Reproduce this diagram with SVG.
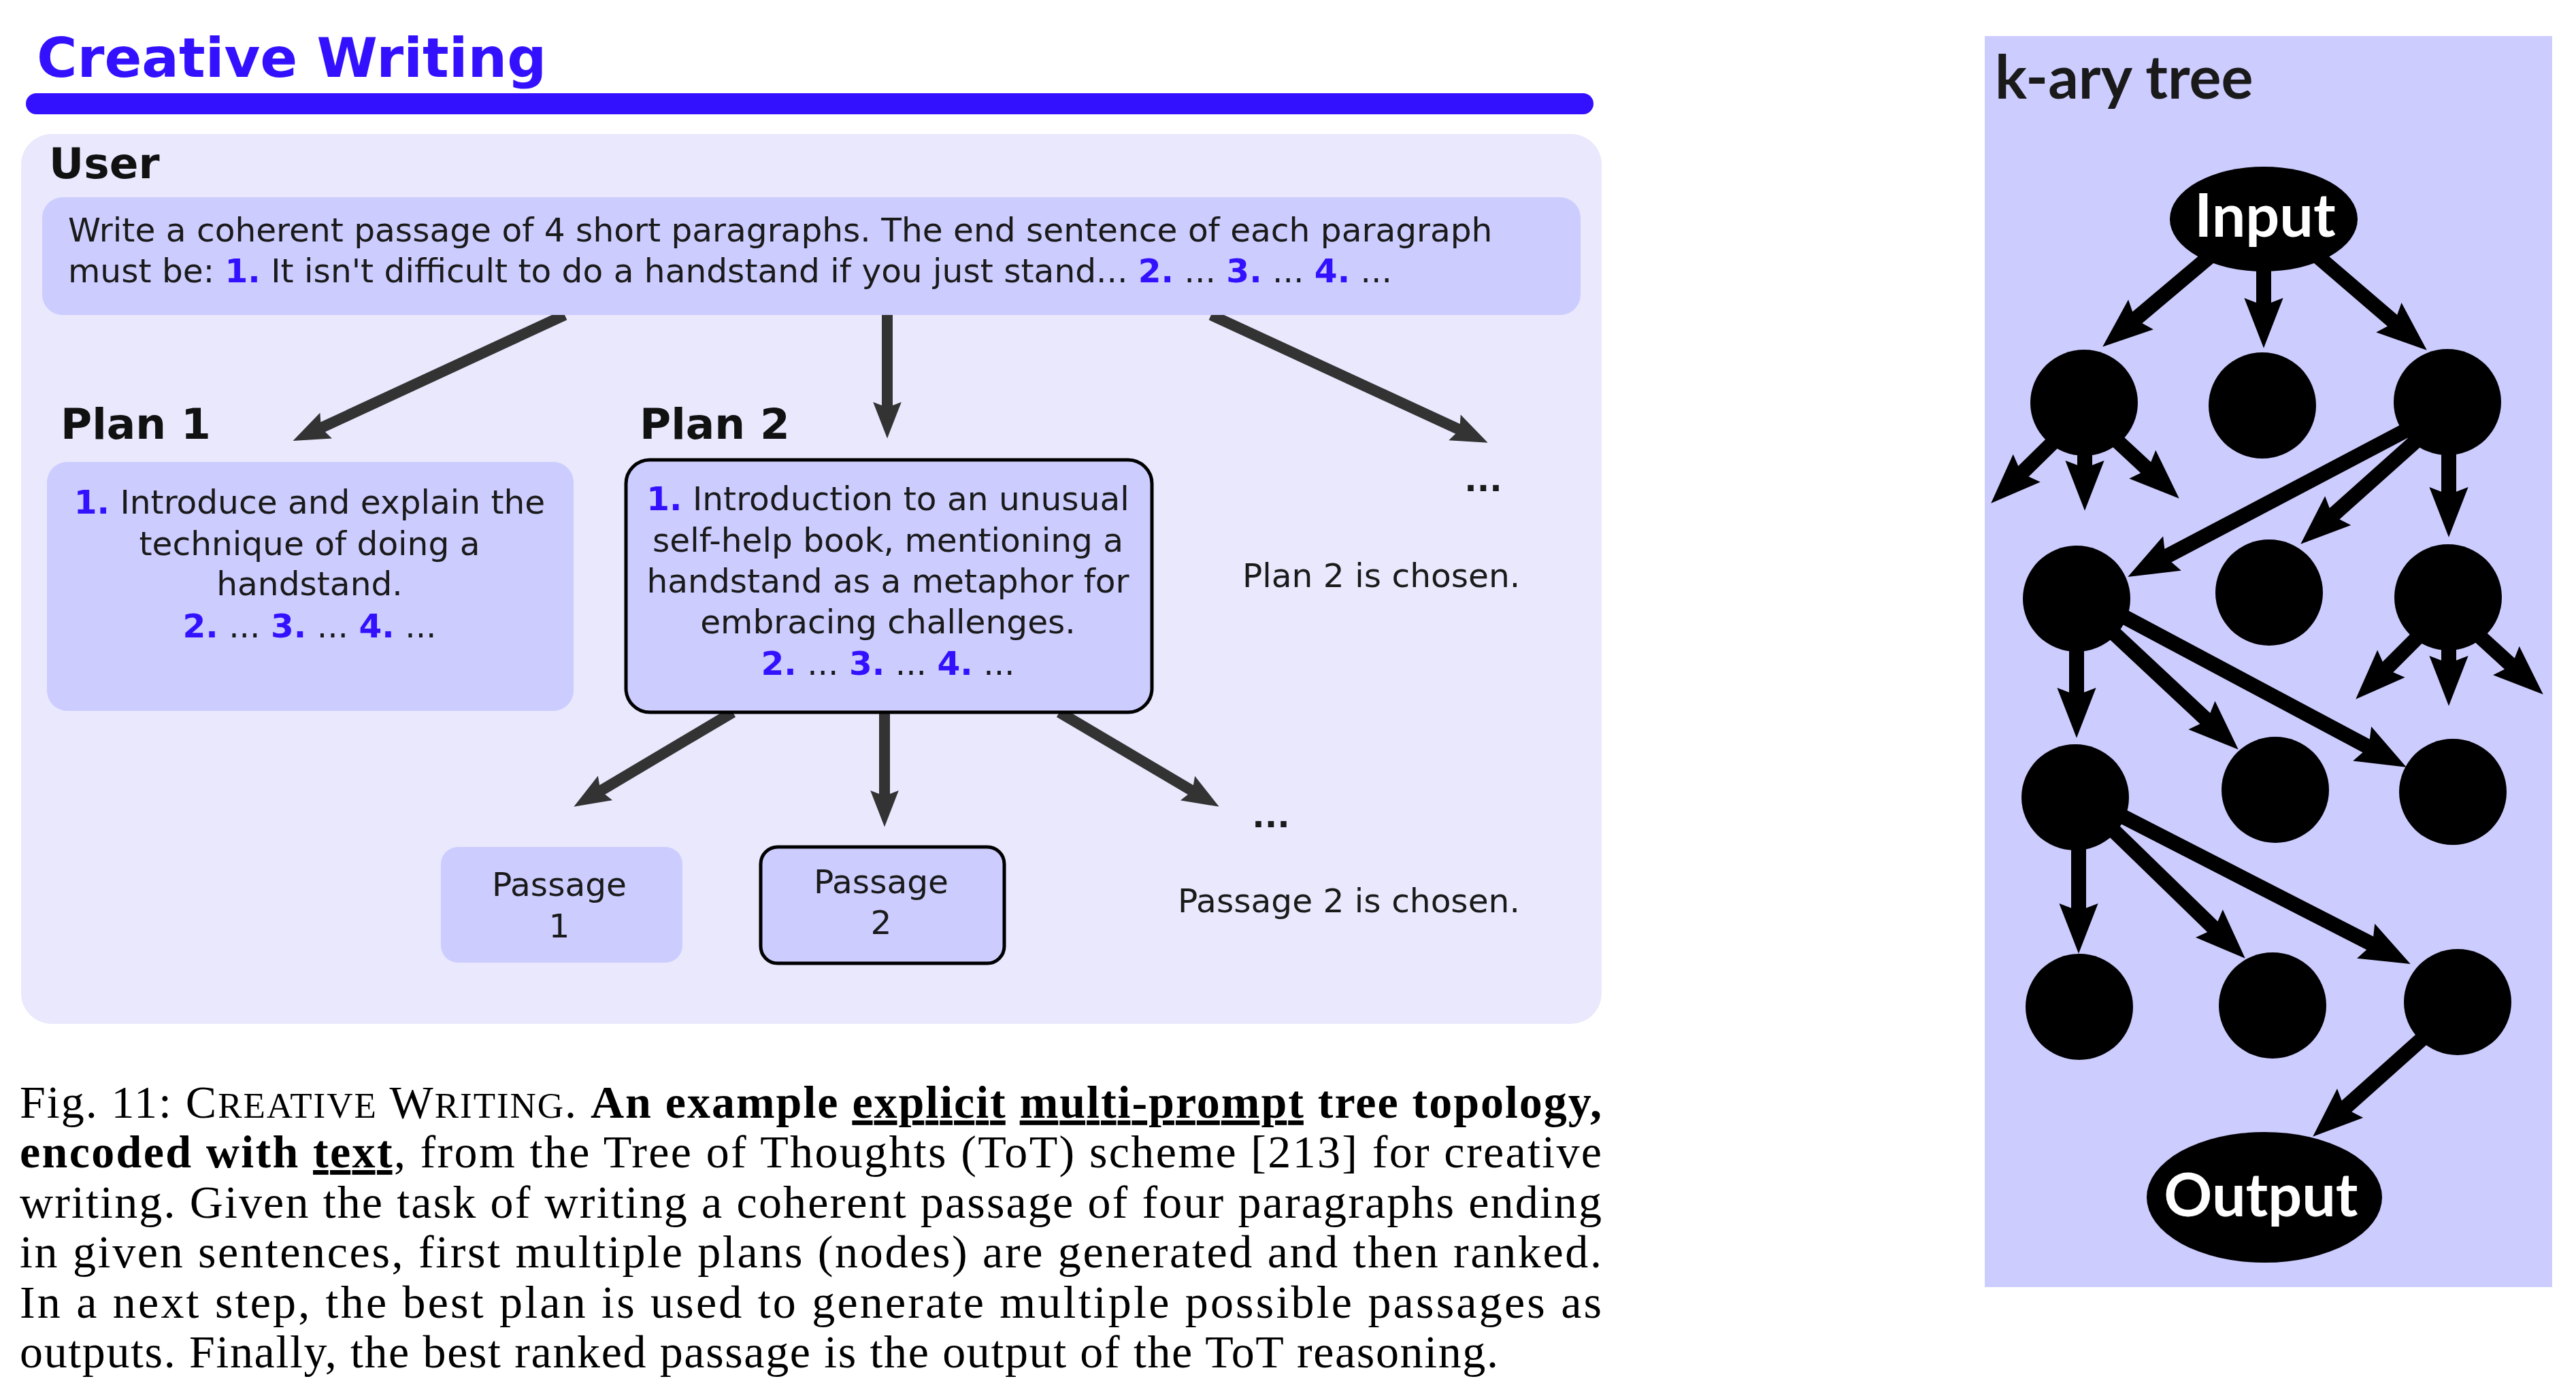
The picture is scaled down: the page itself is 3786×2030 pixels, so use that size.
<svg xmlns="http://www.w3.org/2000/svg" width="3786" height="2030" viewBox="0 0 3786 2030">
<style>
.sans{font-family:"DejaVu Sans","Verdana",sans-serif;}
.body{font-family:"DejaVu Sans",sans-serif;font-size:48.6px;fill:#1a1a1a;}
.bold{font-weight:bold;}
.hd{font-family:"DejaVu Sans",sans-serif;font-size:63px;font-weight:bold;fill:#111;}
.num{font-weight:bold;fill:#3311ff;}
.box{fill:#ccccff;}
.sel{fill:#ccccff;stroke:#000;stroke-width:5;}
.ga{stroke:#333;stroke-width:16;fill:none;marker-end:url(#ahG);}
.ka{stroke:#000;stroke-width:22;fill:none;marker-end:url(#ahK);}
.node{fill:#000;}
.lato{font-family:Lato,"Open Sans",sans-serif;font-weight:bold;font-size:88px;}
.cap{font-family:"Liberation Serif","Times New Roman",serif;font-size:68px;fill:#000;}
.sc{font-size:53px;}
</style>
<defs>
<marker id="ahG" markerUnits="strokeWidth" markerWidth="4" markerHeight="3" refX="1" refY="0" orient="auto" overflow="visible"><path d="M0,-1.3 L3.35,0 L0,1.3 L0.5,0 Z" fill="#333"/></marker>
<marker id="ahK" markerUnits="strokeWidth" markerWidth="4" markerHeight="3" refX="1" refY="0" orient="auto" overflow="visible"><path d="M0,-1.3 L3.35,0 L0,1.3 L0.5,0 Z" fill="#000"/></marker>
</defs>
<rect width="3786" height="2030" fill="#fff"/>

<g id="title">
<text x="54" y="113" class="sans bold" font-size="81" fill="#3311ff">Creative Writing</text>
<rect x="38" y="137" width="2304" height="31" rx="15.5" fill="#3311ff"/>
</g>

<g id="panel">
<rect x="31" y="197" width="2323" height="1308" rx="45" fill="#e9e8fd"/>
<text x="72" y="262" class="hd">User</text>
</g>

<g id="connectors">
<line x1="830" y1="463" x2="464.6" y2="632.3" class="ga"/>
<line x1="1304" y1="463" x2="1304" y2="607" class="ga"/>
<line x1="1780" y1="463" x2="2152.5" y2="635.1" class="ga"/>
<line x1="1077" y1="1047" x2="875.7" y2="1166.6" class="ga"/>
<line x1="1300" y1="1047" x2="1300" y2="1178" class="ga"/>
<line x1="1557" y1="1047" x2="1759.3" y2="1166.7" class="ga"/>
</g>

<g id="prompt">
<rect x="62" y="290" width="2261" height="173" rx="30" class="box"/>
<text x="100" y="355" class="body">Write a coherent passage of 4 short paragraphs. The end sentence of each paragraph</text>
<text x="100" y="415" class="body">must be: <tspan class="num">1.</tspan> It isn't difficult to do a handstand if you just stand... <tspan class="num">2.</tspan> ... <tspan class="num">3.</tspan> ... <tspan class="num">4.</tspan> ...</text>
</g>

<g id="plan1">
<text x="89" y="645" class="hd">Plan 1</text>
<rect x="69" y="679" width="774" height="366" rx="30" class="box"/>
<text x="455" y="755" class="body" text-anchor="middle"><tspan class="num">1.</tspan> Introduce and explain the</text>
<text x="455" y="816" class="body" text-anchor="middle">technique of doing a</text>
<text x="455" y="875" class="body" text-anchor="middle">handstand.</text>
<text x="455" y="937" class="body" text-anchor="middle"><tspan class="num">2.</tspan> ... <tspan class="num">3.</tspan> ... <tspan class="num">4.</tspan> ...</text>
</g>

<g id="plan2">
<text x="940" y="645" class="hd">Plan 2</text>
<rect x="920" y="676" width="773" height="371" rx="35" class="sel"/>
<text x="1305" y="750" class="body" text-anchor="middle"><tspan class="num">1.</tspan> Introduction to an unusual</text>
<text x="1305" y="811" class="body" text-anchor="middle">self-help book, mentioning a</text>
<text x="1305" y="871" class="body" text-anchor="middle">handstand as a metaphor for</text>
<text x="1305" y="931" class="body" text-anchor="middle">embracing challenges.</text>
<text x="1305" y="992" class="body" text-anchor="middle"><tspan class="num">2.</tspan> ... <tspan class="num">3.</tspan> ... <tspan class="num">4.</tspan> ...</text>
</g>

<g id="plan-more">
<text x="2180" y="722" class="body bold" text-anchor="middle">...</text>
<text x="1826" y="863" class="body">Plan 2 is chosen.</text>
</g>

<g id="passage1">
<rect x="648" y="1245" width="355" height="170" rx="25" class="box"/>
<text x="822" y="1317" class="body" text-anchor="middle">Passage</text>
<text x="822" y="1378" class="body" text-anchor="middle">1</text>
</g>

<g id="passage2">
<rect x="1118" y="1245" width="358" height="171" rx="25" class="sel"/>
<text x="1295" y="1313" class="body" text-anchor="middle">Passage</text>
<text x="1295" y="1373" class="body" text-anchor="middle">2</text>
</g>

<g id="passage-more">
<text x="1868" y="1216" class="body bold" text-anchor="middle">...</text>
<text x="1731" y="1341" class="body">Passage 2 is chosen.</text>
</g>

<g id="caption">
<text x="29" y="1643" class="cap" textLength="2325" lengthAdjust="spacing">Fig. 11: C<tspan class="sc">REATIVE</tspan> W<tspan class="sc">RITING</tspan>. <tspan font-weight="bold">An example <tspan text-decoration="underline">explicit</tspan> <tspan text-decoration="underline">multi-prompt</tspan> tree topology,</tspan></text>
<text x="29" y="1716" class="cap" textLength="2325" lengthAdjust="spacing"><tspan font-weight="bold">encoded with <tspan text-decoration="underline">text</tspan></tspan>, from the Tree of Thoughts (ToT) scheme [213] for creative</text>
<text x="29" y="1790" class="cap" textLength="2325" lengthAdjust="spacing">writing. Given the task of writing a coherent passage of four paragraphs ending</text>
<text x="29" y="1863" class="cap" textLength="2325" lengthAdjust="spacing">in given sentences, first multiple plans (nodes) are generated and then ranked.</text>
<text x="29" y="1937" class="cap" textLength="2325" lengthAdjust="spacing">In a next step, the best plan is used to generate multiple possible passages as</text>
<text x="29" y="2010" class="cap" textLength="2173" lengthAdjust="spacing">outputs. Finally, the best ranked passage is the output of the ToT reasoning.</text>
</g>

<g id="kary-panel">
<rect x="2917" y="53" width="834" height="1839" fill="#ccccff"/>
<text x="2932" y="145" class="lato" fill="#1a1a1a">k-ary tree</text>
</g>

<g id="tree-connectors">
<line x1="3250" y1="375" x2="3129.7" y2="476.5" class="ka"/>
<line x1="3327" y1="390" x2="3327" y2="460" class="ka"/>
<line x1="3404" y1="375" x2="3527.6" y2="481.1" class="ka"/>
<line x1="3040" y1="628" x2="2963.1" y2="703.5" class="ka"/>
<line x1="3064" y1="640" x2="3064" y2="699" class="ka"/>
<line x1="3090" y1="628" x2="3164.9" y2="697.6" class="ka"/>
<line x1="3560" y1="620" x2="3173" y2="823.8" class="ka"/>
<line x1="3560" y1="640" x2="3419.8" y2="765.3" class="ka"/>
<line x1="3599" y1="650" x2="3599" y2="738" class="ka"/>
<line x1="3575" y1="915" x2="3498.8" y2="991.2" class="ka"/>
<line x1="3599" y1="920" x2="3599" y2="986" class="ka"/>
<line x1="3622" y1="915" x2="3699.6" y2="985.9" class="ka"/>
<line x1="3052" y1="920" x2="3052" y2="1033" class="ka"/>
<line x1="3090" y1="915" x2="3252" y2="1066.5" class="ka"/>
<line x1="3100" y1="895" x2="3491.1" y2="1103.5" class="ka"/>
<line x1="3055" y1="1210" x2="3055" y2="1350" class="ka"/>
<line x1="3090" y1="1205" x2="3262.7" y2="1372.8" class="ka"/>
<line x1="3100" y1="1190" x2="3496.7" y2="1393.3" class="ka"/>
<line x1="3590" y1="1500" x2="3437.7" y2="1636.3" class="ka"/>
</g>

<g id="input"><ellipse cx="3327" cy="322" rx="138" ry="77" class="node"/><text x="3329" y="348" class="lato" font-size="86" fill="#fff" text-anchor="middle">Input</text></g>
<g id="nA"><ellipse cx="3063" cy="592" rx="79" ry="78" class="node"/></g>
<g id="nB"><ellipse cx="3325" cy="596" rx="79" ry="78" class="node"/></g>
<g id="nC"><ellipse cx="3597" cy="591" rx="79" ry="78" class="node"/></g>
<g id="nD"><ellipse cx="3052" cy="880" rx="79" ry="78" class="node"/></g>
<g id="nE"><ellipse cx="3335" cy="871" rx="79" ry="78" class="node"/></g>
<g id="nF"><ellipse cx="3598" cy="878" rx="79" ry="78" class="node"/></g>
<g id="nG"><ellipse cx="3050" cy="1172" rx="79" ry="78" class="node"/></g>
<g id="nH"><ellipse cx="3344" cy="1161" rx="79" ry="78" class="node"/></g>
<g id="nI"><ellipse cx="3605" cy="1164" rx="79" ry="78" class="node"/></g>
<g id="nJ"><ellipse cx="3056" cy="1480" rx="79" ry="78" class="node"/></g>
<g id="nK"><ellipse cx="3340" cy="1478" rx="79" ry="78" class="node"/></g>
<g id="nL"><ellipse cx="3612" cy="1473" rx="79" ry="78" class="node"/></g>
<g id="output"><ellipse cx="3328" cy="1760" rx="173" ry="96" class="node"/><text x="3323" y="1788" class="lato" font-size="86" fill="#fff" text-anchor="middle">Output</text></g>
</svg>
